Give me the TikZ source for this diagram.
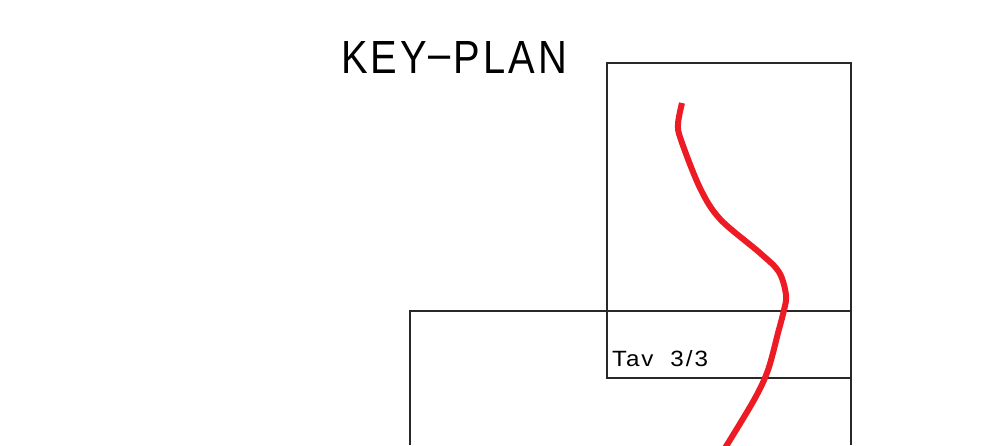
\documentclass[tikz,border=0pt]{standalone}
\usepackage{fontspec}
\setmainfont{Liberation Sans}
\newfontfamily\cadfont[LetterSpace=8]{Liberation Sans}
\usepackage{graphicx}
\definecolor{route}{RGB}{237,28,36}
\definecolor{frame}{RGB}{40,40,40}
\tikzset{
  frameline/.style={draw=frame, line width=1.1pt},
  routeline/.style={draw=route, line width=6pt, line cap=butt, line join=round},
  label/.style={inner sep=0pt, outer sep=0pt, anchor=south west, text=black}
}
\begin{document}
\begin{tikzpicture}[x=1pt,y=-1pt]
\useasboundingbox (0,0) rectangle (987,445);
% title
\node[label] (title) at (341,73) {\resizebox{226pt}{32pt}{\cadfont KEY\kern0.04em\raisebox{0.07em}{\textendash}\kern0.06emPLAN}};
% upper sheet frame
\draw[frameline] (607,63) rectangle (851,378);
% lower sheet frame (continues below the picture)
\draw[frameline] (410,445) -- (410,311) -- (851,311) -- (851,445);
% sheet label
\node[label] (tav) at (612,367) {\resizebox{96pt}{16pt}{\cadfont Tav\hspace{0.7em}3/3}};
% route
\draw[routeline] plot[smooth, tension=0.55] coordinates {
  (682,103) (678,124) (681,140) (700,188) (720,219) (760,253) (779,272)
  (786,295) (784,310) (778,333) (768,370) (754,400) (725,448)};
\end{tikzpicture}
\end{document}
